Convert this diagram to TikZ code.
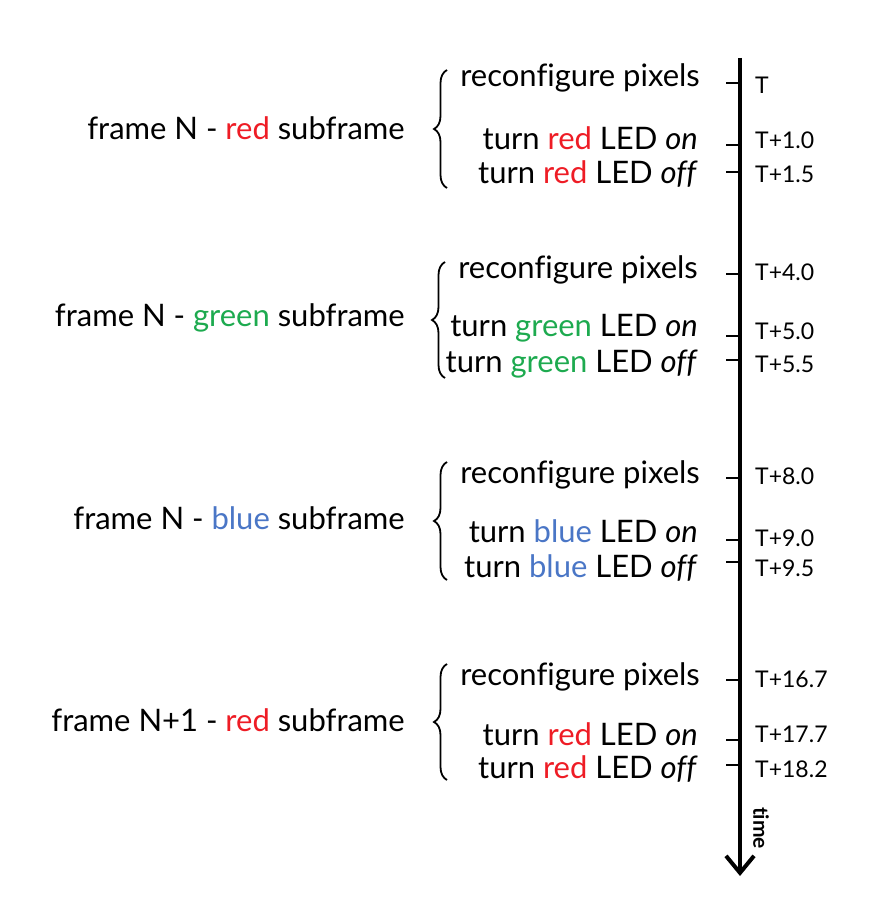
\documentclass[tikz,border=0pt]{standalone}
\usepackage{fontspec}
\setmainfont{Lato}[Ligatures=NoCommon]
\usepackage{xcolor}
\usepackage{tikz}
\usetikzlibrary{arrows.meta, decorations.pathreplacing}
\definecolor{ledred}{HTML}{EE1C25}
\definecolor{ledgreen}{HTML}{1DAA4F}
\definecolor{ledblue}{HTML}{4A76C6}
\tikzstyle{action} = [anchor=east, inner sep=0pt, font=\fontsize{31}{36}\selectfont]
\tikzstyle{subframe} = [anchor=east, inner sep=0pt, font=\fontsize{31}{36}\selectfont]
\tikzstyle{stamp} = [anchor=west, inner sep=0pt, font=\fontsize{23}{27}\selectfont]
\tikzstyle{tickline} = [draw, line width=2pt]
\tikzstyle{timeline} = [draw, line width=4pt, -{Straight Barb[length=17pt, width=28pt]}]
\tikzstyle{bracket} = [draw, line width=1.8pt, decorate, decoration={brace, amplitude=13pt}]

\begin{document}
\begin{tikzpicture}[x=1pt, y=-1pt]
        \useasboundingbox (0,0) rectangle (888,912);

        % time axis
        \coordinate (top) at (740,58);
        \coordinate (bottom) at (740,876);
        \path [timeline] (top) -- (bottom);
        \node [rotate=-90, inner sep=0pt, font=\fontsize{21}{24}\selectfont\bfseries] (time) at (761,828) {time};

        % frame N - red
        \node [subframe] (frameNr) at (405,128) {frame N - \textcolor{ledred}{red} subframe};
        \node [action] (reconfNr) at (700,78) {reconfigure pixels};
        \node [action] (onNr) at (698,138) {turn \textcolor{ledred}{red} LED \textit{on}};
        \node [action] (offNr) at (698,174) {turn \textcolor{ledred}{red} LED \textit{off}};
        \path [bracket] (447,188) -- (447,70);

        % frame N - green
        \node [subframe] (frameNg) at (405,318) {frame N - \textcolor{ledgreen}{green} subframe};
        \node [action] (reconfNg) at (698,270) {reconfigure pixels};
        \node [action] (onNg) at (698,328) {turn \textcolor{ledgreen}{green} LED \textit{on}};
        \node [action] (offNg) at (698,364) {turn \textcolor{ledgreen}{green} LED \textit{off}};
        \path [bracket] (445,378) -- (445,262);

        % frame N - blue
        \node [subframe] (frameNb) at (405,518) {frame N - \textcolor{ledblue}{blue} subframe};
        \node [action] (reconfNb) at (700,475) {reconfigure pixels};
        \node [action] (onNb) at (698,531) {turn \textcolor{ledblue}{blue} LED \textit{on}};
        \node [action] (offNb) at (698,568) {turn \textcolor{ledblue}{blue} LED \textit{off}};
        \path [bracket] (447,580) -- (447,462);

        % frame N+1 - red
        \node [subframe] (frameMr) at (405,720) {frame N+1 - \textcolor{ledred}{red} subframe};
        \node [action] (reconfMr) at (700,677) {reconfigure pixels};
        \node [action] (onMr) at (698,734) {turn \textcolor{ledred}{red} LED \textit{on}};
        \node [action] (offMr) at (698,769) {turn \textcolor{ledred}{red} LED \textit{off}};
        \path [bracket] (447,780) -- (447,664);

        % time stamps
        \node [stamp] (t0) at (755,85) {T};
        \node [stamp] (t1) at (755,140) {T+1.0};
        \node [stamp] (t2) at (755,174) {T+1.5};
        \node [stamp] (t3) at (755,272) {T+4.0};
        \node [stamp] (t4) at (755,331) {T+5.0};
        \node [stamp] (t5) at (755,364) {T+5.5};
        \node [stamp] (t6) at (755,476) {T+8.0};
        \node [stamp] (t7) at (755,538) {T+9.0};
        \node [stamp] (t8) at (755,568) {T+9.5};
        \node [stamp] (t9) at (755,679) {T+16.7};
        \node [stamp] (t10) at (755,734) {T+17.7};
        \node [stamp] (t11) at (755,769) {T+18.2};

        % ticks
        \path [tickline] (740,83) -- (726,83);
        \path [tickline] (740,145) -- (726,145);
        \path [tickline] (740,172) -- (726,172);
        \path [tickline] (740,274) -- (726,274);
        \path [tickline] (740,336) -- (726,336);
        \path [tickline] (740,360) -- (726,360);
        \path [tickline] (740,478) -- (726,478);
        \path [tickline] (740,540) -- (726,540);
        \path [tickline] (740,562) -- (726,562);
        \path [tickline] (740,680) -- (726,680);
        \path [tickline] (740,740) -- (726,740);
        \path [tickline] (740,765) -- (726,765);
    \end{tikzpicture}
\end{document}
